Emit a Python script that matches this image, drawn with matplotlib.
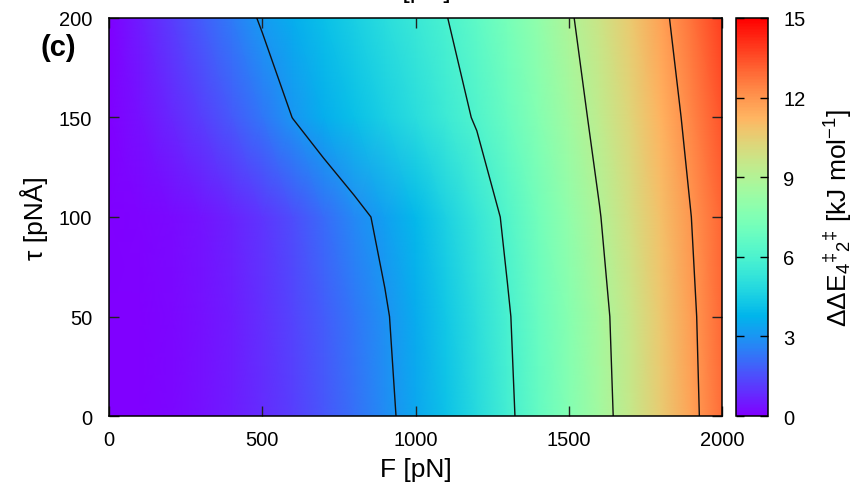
import numpy as np
import matplotlib
matplotlib.use("Agg")
import matplotlib.pyplot as plt

plt.rcParams["font.family"] = ["Liberation Sans", "DejaVu Sans"]
plt.rcParams["mathtext.fontset"] = "custom"
plt.rcParams["mathtext.rm"] = "Liberation Sans"
plt.rcParams["mathtext.it"] = "Liberation Sans:italic"

# grid
force = [0, 100, 200, 300, 400, 500, 600, 700, 800, 900, 1000,
         1100, 1200, 1300, 1400, 1500, 1600, 1700, 1800, 1900, 2000]
torque = [0, 50, 100, 150, 200]

# ddE [kJ/mol], one row per torque value
dde_tau0 = [0, 0.05, 0.14, 0.30, 0.55, 0.86, 1.23, 1.68, 2.19, 2.76, 3.42,
            4.14, 4.92, 5.78, 6.68, 7.60, 8.55, 9.55, 10.6, 11.7, 12.85]
dde_tau50 = [0, 0.05, 0.15, 0.32, 0.57, 0.90, 1.30, 1.77, 2.30, 2.90, 3.56,
             4.28, 5.05, 5.90, 6.80, 7.72, 8.66, 9.66, 10.7, 11.8, 12.95]
dde_tau100 = [0, 0.07, 0.20, 0.40, 0.68, 1.05, 1.50, 2.10, 2.70, 3.25, 3.90,
              4.60, 5.35, 6.20, 7.10, 8.00, 8.95, 9.95, 10.95, 12.0, 13.05]
dde_tau150 = [0, 0.35, 0.75, 1.20, 1.70, 2.30, 3.02, 3.62, 4.08, 4.55, 5.02,
              5.55, 6.10, 6.85, 7.65, 8.45, 9.35, 10.3, 11.3, 12.35, 13.4]
dde_tau200 = [0, 0.55, 1.15, 1.80, 2.45, 3.12, 3.60, 4.08, 4.55, 5.02, 5.50,
              5.97, 6.55, 7.25, 8.00, 8.85, 9.70, 10.65, 11.7, 12.75, 13.8]

contour_levels = [3, 6, 9, 12]
cbar_ticks = [0, 3, 6, 9, 12, 15]

grid = np.array([dde_tau0, dde_tau50, dde_tau100, dde_tau150, dde_tau200])

fig = plt.figure(figsize=(8.68, 5.02), dpi=100)
ax = fig.add_axes([0.1256, 0.1693, 0.7062, 0.7929])
cax = fig.add_axes([0.848, 0.1693, 0.037, 0.7929])

mesh = ax.pcolormesh(force, torque, grid, shading="gouraud", cmap="rainbow",
                     vmin=0, vmax=15)
ax.contour(force, torque, grid, levels=contour_levels, colors="#111111",
           linewidths=1.0)

ax.set_xlim(0, 2000)
ax.set_ylim(0, 200)
ax.set_xticks([0, 500, 1000, 1500, 2000])
ax.set_yticks([0, 50, 100, 150, 200])
ax.tick_params(direction="in", top=True, right=True, length=7, width=1,
               labelsize=14.5, color="#222222")
ax.tick_params(axis="x", pad=10)
ax.tick_params(axis="y", pad=12)
for s in ax.spines.values():
    s.set_linewidth(1.1)
ax.set_xlabel("F [pN]", fontsize=19, labelpad=6)
ax.set_ylabel("τ [pNÅ]", fontsize=19, labelpad=8)

cb = fig.colorbar(mesh, cax=cax, ticks=cbar_ticks)
cb.outline.set_linewidth(1.1)
cax.tick_params(direction="in", left=True, right=True, length=6, width=1,
                labelsize=14.5, pad=11)
cb.set_label("ΔΔE$_{4}$$^{‡}$$_{2}$$^{‡}$ [kJ mol$^{-1}$]", fontsize=19,
             labelpad=12)

fig.text(0.047, 0.905, "(c)", fontsize=21, fontweight="bold", va="center")
# bottom of the label from the panel above, cut by the edge
fig.text(0.478, 1.003, "F [pN]", fontsize=19, ha="center", va="baseline")

fig.savefig("out.png", dpi=100)
